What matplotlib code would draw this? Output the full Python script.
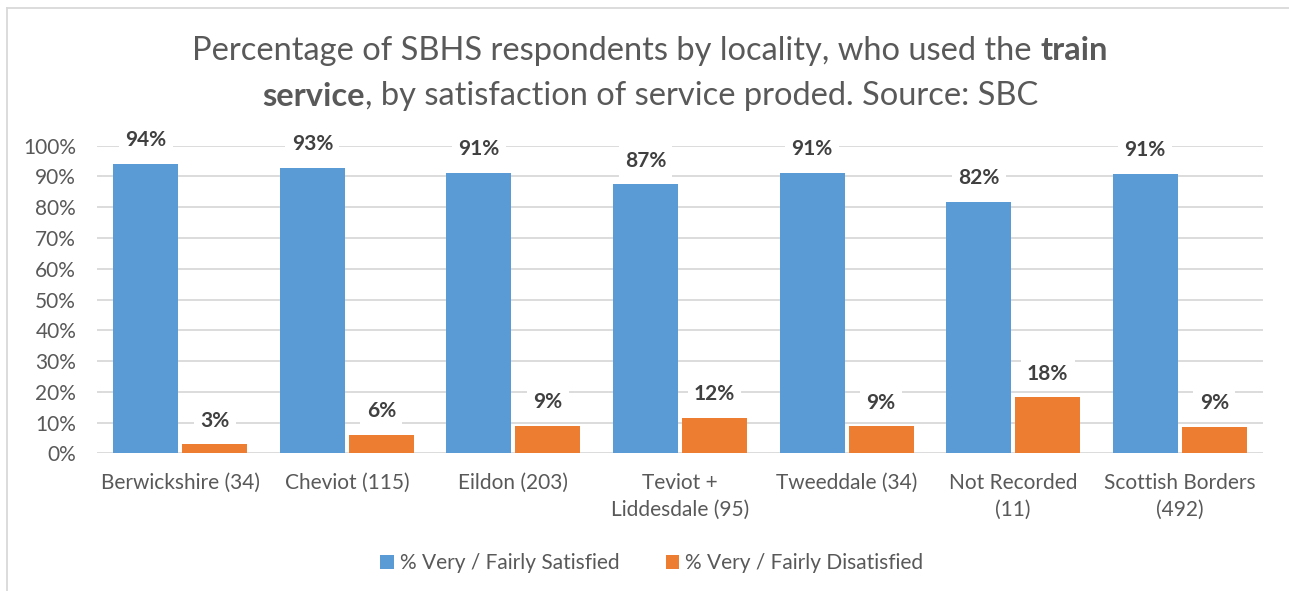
import matplotlib
matplotlib.use("Agg")
import matplotlib.pyplot as plt
from matplotlib.lines import Line2D
import numpy as np

categories = ["Berwickshire (34)", "Cheviot (115)", "Eildon (203)", "Teviot +\nLiddesdale (95)",
              "Tweeddale (34)", "Not Recorded\n(11)", "Scottish Borders\n(492)"]
satisfied = [94.1, 92.9, 91.1, 87.4, 91.2, 81.8, 90.9]
dissatisfied = [2.9, 6.1, 8.9, 11.6, 8.8, 18.2, 8.6]
series_names = ["% Very / Fairly Satisfied", "% Very / Fairly Disatisfied"]
yticks = [0, 10, 20, 30, 40, 50, 60, 70, 80, 90, 100]

BLUE = "#5B9BD5"
ORANGE = "#ED7D31"
GRID = "#D9D9D9"
TXT = "#595959"
LBL = "#404040"
FONT = ["Lato", "DejaVu Sans"]

plt.rcParams["font.family"] = FONT

W, H = 1289, 591
fig = plt.figure(figsize=(W / 100, H / 100), dpi=100)

# chart frame: top and left edges
bx, by = 6.5 / W, 1 - 7.5 / H
fig.add_artist(Line2D([bx, 1.0], [by, by], transform=fig.transFigure, color="#D9D9D9", linewidth=1.3))
fig.add_artist(Line2D([bx, bx], [0.0, by], transform=fig.transFigure, color="#D9D9D9", linewidth=1.3))

left, right = 97 / W, 1263 / W
bottom, top = 1 - 453.3 / H, 1 - 145.7 / H
ax = fig.add_axes([left, bottom, right - left, top - bottom])

x = np.arange(len(categories))
bw = 0.39
off = 0.207
b1 = ax.bar(x - off, satisfied, bw, color=BLUE, zorder=2, label=series_names[0])
b2 = ax.bar(x + off, dissatisfied, bw, color=ORANGE, zorder=2, label=series_names[1])

for bars, vals in ((b1, satisfied), (b2, dissatisfied)):
    for rect, v in zip(bars, vals):
        ax.annotate(f"{v:.0f}%", (rect.get_x() + rect.get_width() / 2, v),
                    xytext=(0, 17), textcoords="offset points", ha="center", va="center",
                    fontsize=15, fontweight="bold", color=LBL, zorder=4, annotation_clip=False,
                    bbox=dict(boxstyle="square,pad=0.3", facecolor="white", edgecolor="none"))

ax.set_xlim(-0.5, len(categories) - 0.5)
ax.set_ylim(0, 100)
ax.set_yticks(yticks)
ax.set_yticklabels([f"{t}%" for t in yticks])
ax.set_xticks(x)
ax.set_xticklabels(categories, linespacing=1.45)
ax.tick_params(axis="both", length=0, labelsize=15, labelcolor=TXT)
ax.tick_params(axis="y", pad=15)
ax.tick_params(axis="x", pad=14)
for lab in ax.get_xticklabels():
    lab.set_verticalalignment("top")
ax.grid(axis="y", color=GRID, linewidth=1.3, zorder=0)
ax.set_axisbelow(True)
for s in ax.spines.values():
    s.set_visible(False)

leg = fig.legend(handles=[b1, b2], labels=series_names, loc="center", bbox_to_anchor=(652 / W, 1 - 563 / H),
                 ncol=2, frameon=False, fontsize=15, labelcolor=TXT, handlelength=0.65, handleheight=0.65,
                 handletextpad=0.3, columnspacing=2.2)

# title with bold fragments
def rich_line(parts, y, cx=650 / W, size=23.5):
    fig.canvas.draw()
    r = fig.canvas.get_renderer()
    texts = []
    for s, w in parts:
        t = fig.text(0, y, s, fontsize=size, fontweight=w, color=TXT, ha="left", va="center")
        texts.append(t)
    widths = [t.get_window_extent(r).width / W for t in texts]
    total = sum(widths)
    xx = cx - total / 2
    for t, wd in zip(texts, widths):
        t.set_x(xx)
        xx += wd

rich_line([("Percentage of SBHS respondents by locality, who used the ", "normal"), ("train", "bold")], 1 - 51 / H)
rich_line([("service", "bold"), (", by satisfaction of service proded. Source: SBC", "normal")], 1 - 96 / H)

fig.savefig("out.png", dpi=100)
